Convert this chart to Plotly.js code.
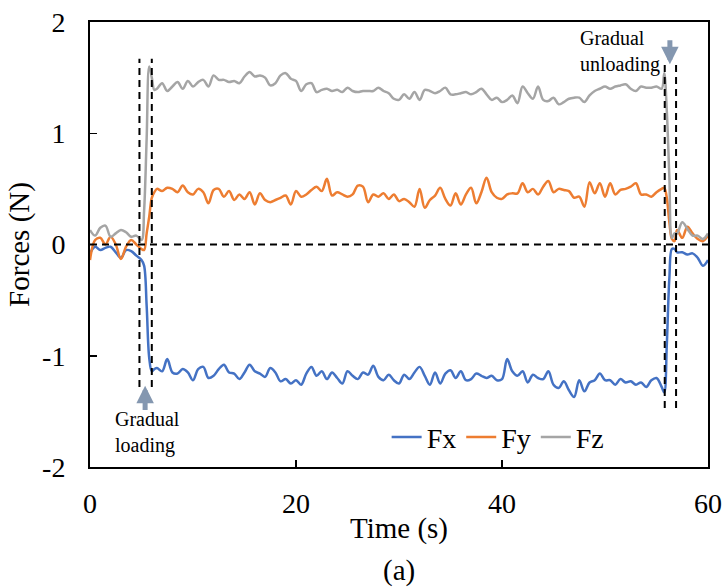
<!DOCTYPE html>
<html>
<head>
<meta charset="utf-8">
<script src="https://cdn.plot.ly/plotly-3.0.1.min.js"></script>
<style>html,body{margin:0;padding:0;background:#fff;}#chart{width:723px;height:588px;}</style>
</head>
<body>
<div id="chart"></div>
<script>
// Time (s)
const time = [
  0,0.5,1,1.5,2,2.5,3,3.5,4,4.5,
  5,5.25,5.5,5.75,6,6.25,6.5,
  7,7.5,8,8.5,9,9.5,10,10.5,11,11.5,
  12,12.5,13,13.5,14,14.5,15,15.5,16,16.5,
  17,17.5,18,18.5,19,19.5,20,20.5,21,21.5,
  22,22.5,23,23.5,24,24.5,25,25.5,26,26.5,
  27,27.5,28,28.5,29,29.5,30,30.5,31,31.5,
  32,32.5,33,33.5,34,34.5,35,35.5,36,36.5,
  37,37.5,38,38.5,39,39.5,40,40.5,41,41.5,
  42,42.5,43,43.5,44,44.5,45,45.5,46,46.5,
  47,47.5,48,48.5,49,49.5,50,50.5,51,51.5,
  52,52.5,53,53.5,54,54.5,55,55.5,
  55.75,56,56.25,56.5,56.75,57,
  57.5,58,58.5,59,59.5,60
];
// Forces (N)
const Fx = [
  -0.08,-0.02,-0.05,-0.03,-0.02,-0.07,-0.12,-0.05,-0.06,-0.10,
  -0.14,-0.19,-0.55,-1.02,-1.14,-1.12,-1.11,
  -1.14,-1.03,-1.15,-1.16,-1.12,-1.15,-1.22,-1.12,-1.10,-1.20,
  -1.18,-1.12,-1.08,-1.15,-1.16,-1.21,-1.15,-1.08,-1.14,-1.16,
  -1.19,-1.11,-1.15,-1.23,-1.21,-1.25,-1.22,-1.26,-1.16,-1.10,
  -1.18,-1.14,-1.21,-1.15,-1.20,-1.25,-1.14,-1.18,-1.21,-1.15,
  -1.17,-1.09,-1.19,-1.22,-1.17,-1.22,-1.25,-1.17,-1.21,-1.15,
  -1.10,-1.18,-1.26,-1.15,-1.25,-1.16,-1.13,-1.20,-1.14,-1.22,
  -1.21,-1.16,-1.18,-1.20,-1.18,-1.22,-1.21,-1.03,-1.14,-1.18,
  -1.14,-1.24,-1.17,-1.20,-1.21,-1.14,-1.26,-1.29,-1.23,-1.31,
  -1.37,-1.22,-1.32,-1.24,-1.22,-1.16,-1.22,-1.22,-1.26,-1.21,
  -1.24,-1.23,-1.26,-1.24,-1.28,-1.22,-1.20,-1.28,
  -1.33,-0.90,-0.30,-0.04,-0.04,-0.07,
  -0.07,-0.09,-0.08,-0.12,-0.19,-0.14
];
const Fy = [
  -0.14,0.04,0.06,0.00,0.07,0.00,-0.13,-0.02,0.04,0.00,
  -0.04,-0.05,0.10,0.25,0.42,0.47,0.50,
  0.48,0.51,0.50,0.47,0.53,0.47,0.45,0.50,0.47,0.37,
  0.49,0.50,0.43,0.48,0.40,0.45,0.41,0.47,0.36,0.46,
  0.40,0.38,0.40,0.42,0.44,0.36,0.48,0.43,0.45,0.49,
  0.52,0.48,0.59,0.44,0.47,0.45,0.43,0.45,0.53,0.52,
  0.38,0.45,0.43,0.46,0.41,0.45,0.39,0.41,0.38,0.34,
  0.50,0.33,0.40,0.44,0.51,0.41,0.35,0.46,0.36,0.45,
  0.51,0.37,0.47,0.60,0.47,0.42,0.41,0.45,0.46,0.46,
  0.55,0.47,0.50,0.45,0.52,0.57,0.47,0.50,0.49,0.48,
  0.42,0.43,0.34,0.56,0.46,0.55,0.43,0.55,0.45,0.49,
  0.50,0.52,0.55,0.45,0.45,0.43,0.47,0.50,
  0.51,0.42,0.20,0.05,0.03,0.13,
  0.06,0.16,0.10,0.05,0.03,0.08
];
const Fz = [
  0.13,0.08,0.15,0.17,0.07,0.10,0.13,0.11,0.07,0.08,
  0.04,0.30,0.95,1.60,1.50,1.39,1.40,
  1.45,1.38,1.42,1.46,1.40,1.47,1.42,1.46,1.48,1.42,
  1.52,1.48,1.48,1.46,1.47,1.45,1.51,1.55,1.51,1.52,
  1.50,1.43,1.45,1.52,1.54,1.49,1.47,1.38,1.44,1.45,
  1.37,1.39,1.40,1.38,1.39,1.37,1.41,1.38,1.37,1.38,
  1.38,1.38,1.41,1.38,1.36,1.31,1.30,1.35,1.31,1.37,
  1.30,1.39,1.38,1.36,1.38,1.41,1.35,1.35,1.36,1.37,
  1.35,1.37,1.40,1.35,1.30,1.32,1.28,1.30,1.34,1.27,
  1.42,1.36,1.31,1.42,1.30,1.29,1.32,1.26,1.28,1.31,
  1.32,1.32,1.28,1.34,1.38,1.40,1.42,1.40,1.42,1.43,
  1.44,1.40,1.38,1.42,1.41,1.41,1.42,1.40,
  1.54,1.20,0.60,0.06,0.10,0.10,
  0.20,0.14,0.08,0.08,0.05,0.10
];
const seriesNames = ['Fx','Fy','Fz'];
const seriesColors = ['#4472C4','#ED7D31','#A5A5A5'];
// event markers (s) and vertical extents (N)
const loadingTimes = [4.8, 6.0];
const loadingSpan = [-1.28, 1.67];
const unloadingTimes = [55.8, 56.9];
const unloadingSpan = [-1.47, 1.63];
const xTicks = [0, 20, 40, 60];
const yTicks = [-2, -1, 0, 1, 2];

const serif = 'Liberation Serif';
const data = [Fx, Fy, Fz].map((ys, i) => ({
  x: time, y: ys, type: 'scatter', mode: 'lines', name: seriesNames[i],
  line: {color: seriesColors[i], width: 2.5, shape: 'spline', smoothing: 1}
}));

const dash = {color: '#000', width: 2, dash: '7px,5px'};
const shapes = [];
loadingTimes.forEach(t => shapes.push({type:'line', xref:'x', yref:'y', x0:t, x1:t, y0:loadingSpan[0], y1:loadingSpan[1], line:dash}));
unloadingTimes.forEach(t => shapes.push({type:'line', xref:'x', yref:'y', x0:t, x1:t, y0:unloadingSpan[0], y1:unloadingSpan[1], line:dash}));
shapes.push({type:'line', xref:'x', yref:'y', x0:xTicks[0], x1:xTicks[xTicks.length-1], y0:0, y1:0, line:dash});

const arrowColor = '#8497B0';
const annotations = [
  {x:5.35, y:-1.27, ax:5.35, ay:-1.5, xref:'x', yref:'y', axref:'x', ayref:'y', showarrow:true, arrowhead:2, arrowsize:0.7, arrowwidth:5, arrowcolor:arrowColor, text:''},
  {x:56.3, y:1.62, ax:56.3, ay:1.85, xref:'x', yref:'y', axref:'x', ayref:'y', showarrow:true, arrowhead:2, arrowsize:0.7, arrowwidth:5, arrowcolor:arrowColor, text:''},
  {x:2.2, y:-1.45, xref:'x', yref:'y', xanchor:'left', yanchor:'top', align:'left', showarrow:false, text:'Gradual<br>loading', font:{family:serif, size:20, color:'#000'}},
  {x:47.4, y:1.97, xref:'x', yref:'y', xanchor:'left', yanchor:'top', align:'left', showarrow:false, text:'Gradual<br>unloading', font:{family:serif, size:20, color:'#000'}},
  {x:0.5, y:-0.233, xref:'paper', yref:'paper', xanchor:'center', yanchor:'middle', showarrow:false, text:'(a)', font:{family:serif, size:29, color:'#000'}}
];

const layout = {
  width: 723, height: 588,
  margin: {l: 90, r: 15, t: 22, b: 121},
  paper_bgcolor: '#fff', plot_bgcolor: '#fff',
  font: {family: serif, color: '#000'},
  showlegend: true,
  legend: {orientation: 'h', x: 0.48, y: 0.067, xanchor: 'left', yanchor: 'middle', font: {family: serif, size: 28, color: '#000'}, bgcolor: 'rgba(0,0,0,0)', itemwidth: 30},
  xaxis: {
    range: [0, 60], tickvals: xTicks, ticktext: xTicks.map(String),
    showgrid: false, zeroline: false, showline: true, mirror: true, linecolor: '#000', linewidth: 2,
    ticks: 'inside', ticklen: 7, tickwidth: 1.5, tickcolor: '#000',
    tickfont: {family: serif, size: 28, color: '#000'}, ticklabelstandoff: 10,
    title: {text: 'Time (s)', font: {family: serif, size: 29, color: '#000'}, standoff: 0}
  },
  yaxis: {
    range: [-2, 2], tickvals: yTicks, ticktext: yTicks.map(String),
    showgrid: false, zeroline: false, showline: true, mirror: true, linecolor: '#000', linewidth: 2,
    ticks: 'inside', ticklen: 7, tickwidth: 1.5, tickcolor: '#000',
    tickfont: {family: serif, size: 28, color: '#000'}, ticklabelstandoff: 17,
    title: {text: 'Forces (N)', font: {family: serif, size: 29, color: '#000'}, standoff: 4}
  },
  shapes: shapes,
  annotations: annotations
};

Plotly.newPlot('chart', data, layout, {displayModeBar: false, staticPlot: true});
</script>
</body>
</html>
